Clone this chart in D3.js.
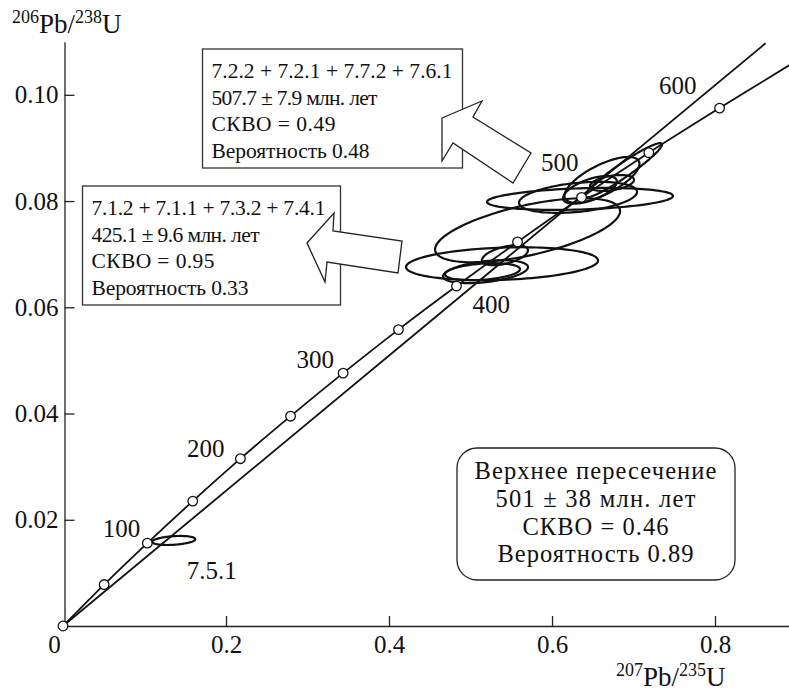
<!DOCTYPE html>
<html>
<head>
<meta charset="utf-8">
<script src="https://cdn.jsdelivr.net/npm/d3@7"></script>
<style>
  body { margin: 0; background: #fff; }
  svg { display: block; }
  text { font-family: "Liberation Serif", "Times New Roman", serif; fill: #111; }
</style>
</head>
<body>
<svg id="chart" width="789" height="692"></svg>
<script>
//// U-Pb CONCORDIA DIAGRAM ////

// Concordia age marks (Ma) and their ratios
const concordiaAges = [0, 50, 100, 150, 200, 250, 300, 350, 400, 450, 500, 550, 600, 650];
const concordiaX = [0, 0.0505, 0.1035, 0.1592, 0.2177, 0.2792, 0.3437, 0.4116, 0.4828, 0.5577, 0.6362, 0.7188, 0.8056, 0.8968];
const concordiaY = [0, 0.0078, 0.0156, 0.0235, 0.0315, 0.0395, 0.0476, 0.0558, 0.0640, 0.0723, 0.0807, 0.0891, 0.0975, 0.1061];

// Discordia line (lower intercept ~0, through the upper intercept)
const discordiaX = [0, 0.862];
const discordiaY = [0, 0.1097];

// Error ellipses of the zircon spots: centre, sigma in x / y, correlation
const ellX   = [0.1359, 0.6344, 0.6319, 0.5700, 0.5387, 0.5184, 0.5147, 0.5423, 0.6613, 0.6877, 0.6736, 0.6466];
const ellY   = [0.0161, 0.0804, 0.0807, 0.0745, 0.0682, 0.0667, 0.0667, 0.0698, 0.0840, 0.0858, 0.0834, 0.0821];
const ellSx  = [0.0264, 0.1141, 0.0724, 0.1135, 0.1178, 0.0521, 0.0460, 0.0282, 0.0460, 0.0472, 0.0270, 0.0330];
const ellSy  = [0.00085, 0.00207, 0.00292, 0.00602, 0.0031, 0.00216, 0.0016, 0.00188, 0.0043, 0.0051, 0.0015, 0.0026];
const ellRho = [0.3, 0.27, 0.35, 0.6, 0.2, 0.4, 0.3, 0.5, 0.7, 0.95, 0.4, 0.6];

// Tick labels
const xTicks = [0, 0.2, 0.4, 0.6, 0.8];
const yTicks = [0.02, 0.04, 0.06, 0.08, 0.10];

// Age labels along the concordia (age, pixel offset from the mark)
const ageLabels = [100, 200, 300, 400, 500, 600];
const ageLabelDx = [-7, -16, -9, 16, -3, -23];
const ageLabelDy = [-6, -2, -5, 27, -26, -14];
const ageLabelAnchor = ["end", "end", "end", "start", "end", "end"];

// Text boxes
const box1Lines = ["7.2.2 + 7.2.1 + 7.7.2 + 7.6.1", "507.7 \u00b1 7.9 млн. лет", "СКВО = 0.49", "Вероятность 0.48"];
const box2Lines = ["7.1.2 + 7.1.1 + 7.3.2 + 7.4.1", "425.1 \u00b1 9.6 млн. лет", "СКВО = 0.95", "Вероятность 0.33"];
const box3Lines = ["Верхнее пересечение", "501 \u00b1 38 млн. лет", "СКВО = 0.46", "Вероятность 0.89"];

// Initialize
var svg = d3.select("#chart");
var width = +svg.attr("width");
var height = +svg.attr("height");

var x = d3.scaleLinear().domain([0, 0.892]).range([63, 790]);
var y = d3.scaleLinear().domain([0, 0.11]).range([626, 41.7]);

svg.append("clipPath").attr("id", "plot")
  .append("rect").attr("x", 0).attr("y", 0).attr("width", width).attr("height", height);

// squeeze or spread a text to a target width with letter-spacing
function fitText(sel, target) {
  var node = sel.node();
  var n = sel.text().length;
  var natural = node.getComputedTextLength();
  if (n > 1) sel.attr("letter-spacing", ((target - natural) / (n - 1)).toFixed(2) + "px");
  return sel;
}

// Axes
var xAxis = d3.axisBottom(x)
  .tickValues(xTicks)
  .tickSizeInner(-10)
  .tickSizeOuter(0)
  .tickPadding(9)
  .tickFormat(d => d === 0 ? "0" : d3.format(".1f")(d));

var gx = svg.append("g")
  .attr("transform", "translate(0," + y(0) + ")")
  .call(xAxis);
gx.select(".domain").attr("stroke", "#222").attr("stroke-width", 1.3);
gx.selectAll(".tick line").attr("stroke", "#222").attr("stroke-width", 1.3)
  .filter(d => d === 0).remove();
gx.selectAll(".tick text")
  .attr("font-family", "Liberation Serif").attr("font-size", 25).attr("fill", "#111")
  .attr("dx", d => d === 0 ? -9 : 0);

var yAxis = d3.axisLeft(y)
  .tickValues(yTicks)
  .tickSizeInner(-10)
  .tickSizeOuter(0)
  .tickPadding(6)
  .tickFormat(d3.format(".2f"));

var gy = svg.append("g")
  .attr("transform", "translate(" + (x(0) + 1.5) + ",0)")
  .call(yAxis);
gy.select(".domain").attr("stroke", "#222").attr("stroke-width", 1.3);
gy.selectAll(".tick line").attr("stroke", "#222").attr("stroke-width", 1.3);
gy.selectAll(".tick text")
  .attr("font-family", "Liberation Serif").attr("font-size", 25).attr("fill", "#111");

// Axis titles with superscript isotopes
function isoTitle(tx, ty, a, b, c, d) {
  var t = svg.append("text").attr("x", tx).attr("y", ty);
  t.append("tspan").attr("font-size", 18).attr("dy", -10).text(a);
  t.append("tspan").attr("font-size", 27).attr("dy", 10).text(b + "/");
  t.append("tspan").attr("font-size", 18).attr("dy", -10).text(c);
  t.append("tspan").attr("font-size", 27).attr("dy", 10).text(d);
  return t;
}
isoTitle(12, 33, "206", "Pb", "238", "U");
isoTitle(616, 686, "207", "Pb", "235", "U");

// Lines
var plot = svg.append("g").attr("clip-path", "url(#plot)");
var line = d3.line().x(d => x(d[0])).y(d => y(d[1]));

plot.append("path")
  .attr("d", line(discordiaX.map((v, i) => [v, discordiaY[i]])))
  .attr("fill", "none").attr("stroke", "#111").attr("stroke-width", 1.8);

plot.append("path")
  .attr("d", line.curve(d3.curveCatmullRom)(concordiaX.map((v, i) => [v, concordiaY[i]])))
  .attr("fill", "none").attr("stroke", "#111").attr("stroke-width", 1.8);

// Error ellipses
var ellLine = d3.line().x(d => x(d[0])).y(d => y(d[1])).curve(d3.curveLinearClosed);
ellX.forEach(function(cx, i) {
  var pts = [];
  var q = Math.sqrt(1 - ellRho[i] * ellRho[i]);
  for (var k = 0; k < 120; k++) {
    var t = k / 120 * 2 * Math.PI;
    pts.push([cx + ellSx[i] * Math.cos(t),
              ellY[i] + ellSy[i] * (ellRho[i] * Math.cos(t) + q * Math.sin(t))]);
  }
  plot.append("path")
    .attr("d", ellLine(pts))
    .attr("fill", "none").attr("stroke", "#111").attr("stroke-width", 2.2);
});

// Age marks
plot.selectAll("circle.age")
  .data(concordiaAges.filter(a => a <= 600))
  .enter().append("circle")
  .attr("class", "age")
  .attr("cx", (d, i) => x(concordiaX[i]))
  .attr("cy", (d, i) => y(concordiaY[i]))
  .attr("r", 4.8)
  .attr("fill", "#fff").attr("stroke", "#111").attr("stroke-width", 1.3);

// Age labels
ageLabels.forEach(function(a, i) {
  var j = concordiaAges.indexOf(a);
  svg.append("text")
    .attr("x", x(concordiaX[j]) + ageLabelDx[i])
    .attr("y", y(concordiaY[j]) + ageLabelDy[i])
    .attr("text-anchor", ageLabelAnchor[i])
    .attr("font-size", 25)
    .text(a);
});

// Label of the young spot
svg.append("text")
  .attr("x", x(ellX[0]) + 13)
  .attr("y", y(ellY[0]) + 39)
  .attr("font-size", 25)
  .text("7.5.1");

// Boxes with their text
function textBox(bx, by, bw, bh, lines, lens, fs) {
  svg.append("rect")
    .attr("x", bx).attr("y", by).attr("width", bw).attr("height", bh)
    .attr("fill", "#fff").attr("stroke", "#333").attr("stroke-width", 1.3);
  lines.forEach(function(s, i) {
    var t = svg.append("text")
      .attr("x", bx + 9).attr("y", by + 29 + i * 26.5)
      .attr("font-size", fs)
      .text(s);
    fitText(t, lens[i]);
  });
}
textBox(202.5, 49, 260, 119, box1Lines, [241, 166, 124, 158], 21.5);
textBox(82.5, 186, 258, 119, box2Lines, [234, 168, 123, 157], 21.5);

// Block arrows pointing from the ellipses to the boxes
var arrow1 = [[442, 118], [482, 101], [473, 117], [531, 153], [513, 183], [453, 143], [442, 161]];
var arrow2 = [[307, 243], [334, 213], [333, 231], [402, 241], [398, 273], [327, 262], [325, 282]];
[arrow1, arrow2].forEach(function(p) {
  svg.append("polygon")
    .attr("points", p.map(d => d.join(",")).join(" "))
    .attr("fill", "#fff").attr("stroke", "#222").attr("stroke-width", 1.3)
    .attr("stroke-linejoin", "miter");
});

// Upper intercept box
svg.append("rect")
  .attr("x", 457).attr("y", 448).attr("width", 278).attr("height", 132)
  .attr("rx", 20).attr("ry", 20)
  .attr("fill", "#fff").attr("stroke", "#222").attr("stroke-width", 1.3);
var box3Base = [479, 507, 535, 562];
var box3Len = [242, 200, 146, 196];
box3Lines.forEach(function(s, i) {
  var t = svg.append("text")
    .attr("x", 596).attr("y", box3Base[i])
    .attr("text-anchor", "middle")
    .attr("font-size", 24.5)
    .text(s);
  fitText(t, box3Len[i]);
});
</script>
</body>
</html>
